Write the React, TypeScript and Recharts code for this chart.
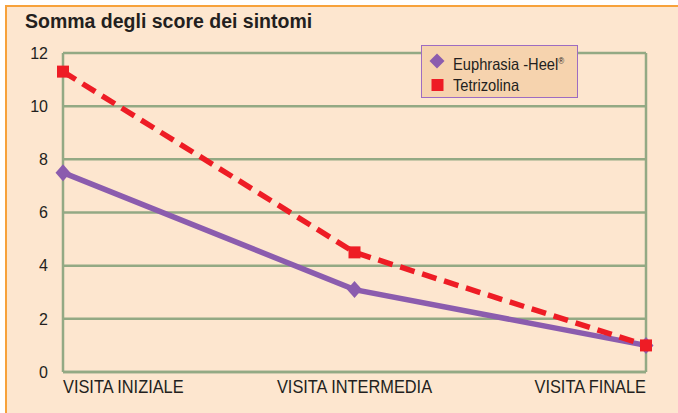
import { CartesianGrid, Legend, Line, LineChart, ReferenceLine, XAxis, YAxis } from 'recharts';

const VISITS = ['VISITA INIZIALE', 'VISITA INTERMEDIA', 'VISITA FINALE'];
const EUPHRASIA = [7.5, 3.1, 1.0];
const TETRIZOLINA = [11.3, 4.5, 1.0];
const Y_TICKS = [0, 2, 4, 6, 8, 10, 12];

const data = VISITS.map((visit, i) => ({
  visit,
  euphrasia: EUPHRASIA[i],
  tetrizolina: TETRIZOLINA[i],
}));

const FONT = "'Liberation Sans', Arial, Helvetica, sans-serif";
const INK = '#231f20';
const GREEN = '#93a984';
const PURPLE = '#8b5cae';
const RED = '#ee1c25';
const BG = '#fde6cf';

function Diamond({ cx, cy, fill }: { cx?: number; cy?: number; fill: string }) {
  if (cx == null || cy == null) return null;
  return <polygon points={`${cx - 7.5},${cy} ${cx},${cy - 8.5} ${cx + 7.5},${cy} ${cx},${cy + 8.5}`} fill={fill} />;
}

function Square({ cx, cy, fill }: { cx?: number; cy?: number; fill: string }) {
  if (cx == null || cy == null) return null;
  return <rect x={cx - 6} y={cy - 6} width={12} height={12} fill={fill} />;
}

function VisitTick({ x, y, payload, index }: { x?: number; y?: number; payload?: { value: string }; index?: number }) {
  const anchor = index === 0 ? 'start' : index === VISITS.length - 1 ? 'end' : 'middle';
  return (
    <g transform={`translate(${x},${y})`}>
      <text transform="scale(0.91,1)" y={13} textAnchor={anchor} fill={INK} fontSize={18} fontFamily={FONT}>
        {payload?.value}
      </text>
    </g>
  );
}

function LegendBox({ payload }: { payload?: Array<{ value: string; color?: string; dataKey?: unknown }> }) {
  return (
    <div
      style={{
        boxSizing: 'border-box',
        width: 157,
        height: 53,
        border: `1.5px solid #9d6cc2`,
        background: '#f6d3ae',
        position: 'relative',
        fontFamily: FONT,
        color: INK,
      }}
    >
      {(payload ?? []).map((p, i) => (
        <div key={p.value} style={{ position: 'absolute', left: 0, top: 3 + i * 24, height: 24, width: '100%' }}>
          <svg width={20} height={20} style={{ position: 'absolute', left: 5, top: 2 }}>
            {p.dataKey === 'euphrasia' ? (
              <polygon points="2.5,10 10,2.5 17.5,10 10,17.5" fill={p.color} />
            ) : (
              <rect x={4.5} y={4} width={12} height={12} fill={p.color} />
            )}
          </svg>
          <span
            style={{
              position: 'absolute',
              left: 31,
              top: 2,
              fontSize: 16.5,
              lineHeight: '20px',
              whiteSpace: 'nowrap',
              transform: 'scaleX(0.89)',
              transformOrigin: 'left',
            }}
          >
            {p.value}
            {p.dataKey === 'euphrasia' && <sup style={{ fontSize: 9, verticalAlign: 6 }}>®</sup>}
          </span>
        </div>
      ))}
    </div>
  );
}

export default function App() {
  return (
    <div style={{ position: 'absolute', left: 0, top: 0, width: 678, height: 413, background: '#fff', overflow: 'hidden' }}>
      <div
        style={{
          position: 'absolute',
          left: 5,
          top: 5,
          right: 0,
          bottom: 0,
          background: BG,
          borderTop: '2px solid #f7a23b',
          borderLeft: '2px solid #f7a23b',
        }}
      />
      <div
        style={{
          position: 'absolute',
          left: 25,
          top: 12,
          fontFamily: FONT,
          fontWeight: 'bold',
          fontSize: 19.5,
          lineHeight: '19.5px',
          color: INK,
          whiteSpace: 'nowrap',
        }}
      >
        Somma degli score dei sintomi
      </div>
      <LineChart
        width={678}
        height={413}
        data={data}
        margin={{ top: 53, right: 32, bottom: 11, left: 0 }}
        style={{ position: 'absolute', left: 0, top: 0 }}
      >
        <CartesianGrid vertical={false} stroke={GREEN} strokeWidth={2.5} />
        <XAxis
          dataKey="visit"
          height={30}
          axisLine={{ stroke: GREEN, strokeWidth: 2.5 }}
          tickLine={false}
          tick={<VisitTick />}
          interval={0}
        />
        <YAxis
          width={63}
          domain={[0, 12]}
          ticks={Y_TICKS}
          axisLine={{ stroke: GREEN, strokeWidth: 2.5 }}
          tickLine={false}
          tickSize={0}
          tickMargin={15}
          tick={{ fill: INK, fontSize: 16, fontFamily: FONT }}
        />
        <ReferenceLine x={VISITS[VISITS.length - 1]} stroke={GREEN} strokeWidth={2.5} />
        <Legend
          layout="horizontal"
          align="center"
          verticalAlign="middle"
          content={<LegendBox />}
          wrapperStyle={{ position: 'absolute', left: 421, top: 45, width: 157, height: 53 }}
        />
        <Line
          dataKey="euphrasia"
          name="Euphrasia -Heel"
          stroke={PURPLE}
          strokeWidth={5.5}
          dot={<Diamond fill={PURPLE} />}
          isAnimationActive={false}
        />
        <Line
          dataKey="tetrizolina"
          name="Tetrizolina"
          stroke={RED}
          strokeWidth={5.5}
          strokeDasharray="15 8"
          dot={<Square fill={RED} />}
          isAnimationActive={false}
        />
      </LineChart>
    </div>
  );
}
